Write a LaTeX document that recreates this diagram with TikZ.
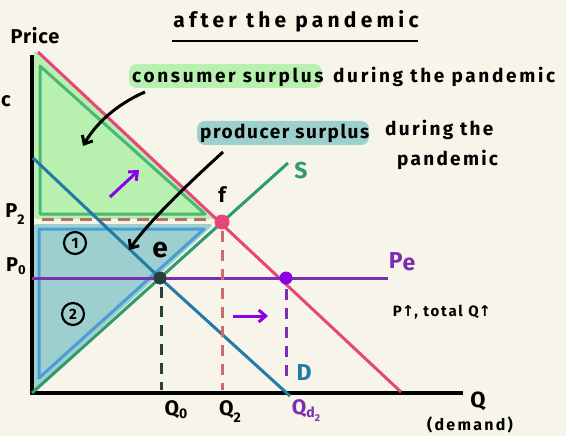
\documentclass[tikz,border=0pt]{standalone}
\usepackage{fontspec}
\setmainfont{Fira Sans}
\newfontfamily\hand{Fira Sans}
\newfontfamily\symf{DejaVu Sans}
\newcommand\hs[2]{\hand\bfseries\fontsize{#1}{#1}\selectfont\addfontfeature{LetterSpace=#2}}
\usetikzlibrary{arrows.meta}
\definecolor{bg}{HTML}{F7F5EA}
\definecolor{dpink}{HTML}{E8457A}
\definecolor{sgreen}{HTML}{2E9A6E}
\definecolor{dblue}{HTML}{2379A8}
\definecolor{ppl}{HTML}{7A2FB0}
\definecolor{pdot}{HTML}{8B00E6}
\definecolor{edot}{HTML}{29403A}
\definecolor{cfill}{HTML}{B8F0B0}
\definecolor{cline}{HTML}{4CB577}
\definecolor{pfill}{HTML}{9DCFCF}
\definecolor{pline}{HTML}{4A9ED6}
\definecolor{brown}{HTML}{B5705E}
\definecolor{fdash}{HTML}{CF6A70}
\tikzset{
  lbl/.style={font=\hs{19}{12}, inner sep=0pt},
  curve/.style={line width=3pt},
  dashedline/.style={line width=3pt, dash pattern=on 11pt off 8pt},
  dotn/.style={circle, inner sep=0pt},
  barb/.style={line width=3pt, -{Straight Barb[length=7pt,width=12pt]}},
  circnum/.style={circle, draw=black, line width=2.2pt, inner sep=0pt, minimum size=22pt, font=\hs{15}{0}},
}
\begin{document}
\begin{tikzpicture}[x=1pt,y=-1pt]
\fill[bg] (0,0) rectangle (566,436);
\useasboundingbox (0,0) rectangle (566,436);
% surplus areas
\fill[cfill, rounded corners=3pt] (34,50) -- (218,219) -- (34,219) -- cycle;
\draw[cline, line width=3pt, line join=round] (40,66) -- (205,214) -- (40,214) -- cycle;
\fill[pfill, rounded corners=4pt] (33,224) -- (214,224) -- (33,391) -- cycle;
\draw[pline, line width=3pt, line join=round] (39,229) -- (204,229) -- (39,378) -- cycle;
\draw[brown, line width=3pt, dash pattern=on 12pt off 7pt] (42,219) -- (212,219);
% axes
\coordinate (ytop) at (32,55);
\coordinate (origin) at (32,393);
\coordinate (xend) at (463,393);
\draw[black, line width=3.5pt] (ytop) -- (origin) -- (xend);
% points
\coordinate (e) at (160,278);
\coordinate (f) at (222,222);
\coordinate (pd) at (286,278);
% curves
\coordinate (d2a) at (38,52); \coordinate (d2b) at (401,392);
\draw[dpink, curve] (d2a) -- (d2b);
\coordinate (da) at (33,158); \coordinate (db) at (290,396);
\draw[dblue, curve] (da) -- (e) -- (db);
\coordinate (sb) at (288,163);
\draw[sgreen, curve] (origin) -- (sb);
\coordinate (pea) at (32,278); \coordinate (peb) at (388,278);
\draw[ppl, curve] (pea) -- (peb);
% dashed verticals
\coordinate (e1) at (161,287); \coordinate (e0) at (161,390);
\coordinate (f1) at (222,231); \coordinate (f0) at (222,390);
\coordinate (p1) at (286,289); \coordinate (p0) at (286,380);
\draw[edot, dashedline] (e1) -- (e0);
\draw[fdash, dashedline] (f1) -- (f0);
\draw[ppl, dashedline] (p1) -- (p0);
% dots
\node[dotn, fill=edot, minimum size=13pt] (edotn) at (e) {};
\node[dotn, fill=dpink, minimum size=15pt] (fdotn) at (f) {};
\node[dotn, fill=pdot, minimum size=13pt] (pdotn) at (pd) {};
% title
\node[lbl, font=\hs{21}{20}] (title) at (296,21) {after the pandemic};
\coordinate (ula) at (172,41); \coordinate (ulb) at (418,41);
\draw[black, line width=2.5pt] (ula) -- (ulb);
% highlighted labels
\fill[cfill, rounded corners=8pt] (129,64) rectangle (322,88);
\node[lbl, font=\hs{19}{14}, anchor=base west] (cs) at (132,83) {consumer surplus};
\node[lbl, font=\hs{19}{14}, anchor=base west] (cs2) at (333,83) {during the pandemic};
\fill[pfill, rounded corners=8pt] (197,121) rectangle (369,145);
\node[lbl, font=\hs{19}{8}, anchor=base west] (ps) at (200,139) {producer surplus};
\node[lbl, anchor=base west] (ps2) at (385,136) {during the};
\node[lbl, anchor=base west] (ps3) at (397,166) {pandemic};
% axis labels
\node[lbl, font=\hs{20}{4}] (price) at (35,36) {Price};
\node[lbl, font=\hs{20}{0}] (cc) at (6,101) {c};
\node[lbl, font=\hs{20}{0}] (p2) at (15,214) {P\raisebox{-7pt}{\fontsize{14}{14}\selectfont 2}};
\node[lbl, font=\hs{20}{0}] (p0l) at (16,266) {P\raisebox{-3pt}{\fontsize{13}{13}\selectfont 0}};
\node[lbl, font=\hs{22}{0}] (q) at (478,401) {Q};
\node[lbl, font=\hs{16}{14}] (dem) at (470,425) {(demand)};
\node[lbl, font=\hs{21}{0}] (q0) at (176,410) {Q\raisebox{-3pt}{\fontsize{14}{14}\selectfont 0}};
\node[lbl, font=\hs{21}{0}] (q2) at (230,412) {Q\raisebox{-7pt}{\fontsize{14}{14}\selectfont 2}};
\node[lbl, font=\hs{21}{0}, text=ppl] (qd2) at (306,411) {Q\raisebox{-3pt}{\fontsize{14}{14}\selectfont d\raisebox{-4pt}{\fontsize{10}{10}\selectfont 2}}};
% point labels
\node[lbl, font=\hs{21}{0}] (fl) at (222,195) {f};
\node[lbl, font=\hs{28}{0}] (el) at (160,250) {e};
\node[lbl, text=sgreen, font=\hs{23}{0}] (sl) at (301,171) {S};
\node[lbl, text=dblue, font=\hs{23}{0}] (dl) at (304,373) {D};
\node[lbl, text=ppl, font=\hs{23}{0}] (pel) at (402,262) {P\raisebox{-2pt}{e}};
\node[lbl, font=\hs{15}{12}] (note) at (442,312) {P{\symf\char"2191}, total Q{\symf\char"2191}};
\node[circnum] (one) at (75,243) {1};
\node[circnum] (two) at (73,314) {2};
% pointer arrows
\coordinate (ca) at (145,92); \coordinate (cb) at (83,146);
\draw[black, barb] (ca) .. controls (115,105) and (95,125) .. (cb);
\coordinate (pa) at (223,152); \coordinate (pb) at (129,250);
\draw[black, barb] (pa) .. controls (190,182) and (150,220) .. (pb);
\coordinate (u1) at (110,197); \coordinate (u2) at (139,170);
\draw[pdot, barb] (u1) -- (u2);
\coordinate (r1) at (233,316); \coordinate (r2) at (268,316);
\draw[pdot, barb] (r1) -- (r2);
\end{tikzpicture}
\end{document}
